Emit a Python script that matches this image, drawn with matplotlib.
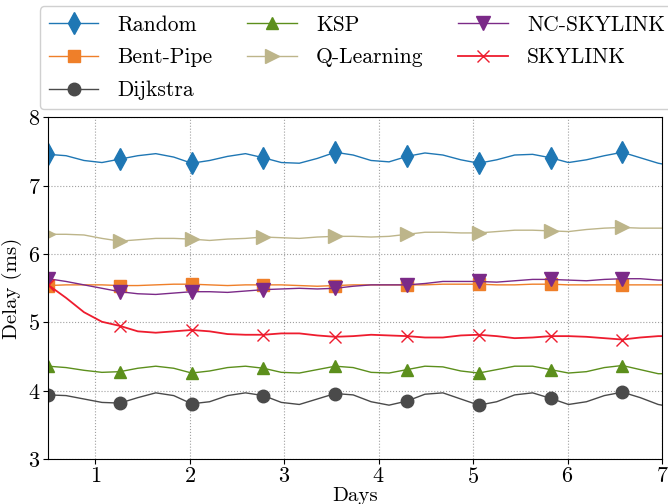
import numpy as np
import matplotlib
matplotlib.use('Agg')
import matplotlib.pyplot as plt

# sample days: 0.5 .. 6.96 step 0.19, plus the end point 7
days = [0.50, 0.69, 0.88, 1.07, 1.26, 1.45, 1.64, 1.83, 2.02, 2.21, 2.40, 2.59,
        2.78, 2.97, 3.16, 3.35, 3.54, 3.73, 3.92, 4.11, 4.30, 4.49, 4.68, 4.87,
        5.06, 5.25, 5.44, 5.63, 5.82, 6.01, 6.20, 6.39, 6.58, 6.77, 6.96, 7.00]

random_d = [7.46, 7.44, 7.37, 7.34, 7.39, 7.44, 7.47, 7.42, 7.33, 7.37, 7.43, 7.47,
            7.41, 7.34, 7.33, 7.40, 7.49, 7.45, 7.37, 7.35, 7.43, 7.48, 7.45, 7.38,
            7.33, 7.38, 7.45, 7.46, 7.41, 7.34, 7.38, 7.44, 7.49, 7.41, 7.33, 7.32]

bent_pipe = [5.54, 5.55, 5.55, 5.55, 5.54, 5.54, 5.55, 5.56, 5.56, 5.55, 5.54, 5.55,
             5.55, 5.55, 5.54, 5.53, 5.54, 5.55, 5.55, 5.55, 5.55, 5.55, 5.56, 5.56,
             5.56, 5.55, 5.55, 5.56, 5.56, 5.55, 5.55, 5.55, 5.55, 5.55, 5.55, 5.55]

dijkstra = [3.94, 3.93, 3.88, 3.83, 3.82, 3.90, 3.97, 3.93, 3.81, 3.84, 3.93, 3.97,
            3.93, 3.83, 3.80, 3.88, 3.96, 3.94, 3.84, 3.79, 3.85, 3.95, 3.97, 3.88,
            3.79, 3.84, 3.94, 3.97, 3.89, 3.80, 3.84, 3.93, 3.98, 3.90, 3.80, 3.79]

ksp = [4.36, 4.34, 4.30, 4.27, 4.28, 4.33, 4.36, 4.33, 4.26, 4.29, 4.34, 4.36,
       4.33, 4.27, 4.26, 4.31, 4.36, 4.34, 4.27, 4.26, 4.31, 4.36, 4.35, 4.29,
       4.26, 4.31, 4.36, 4.36, 4.31, 4.26, 4.28, 4.34, 4.37, 4.31, 4.25, 4.25]

q_learning = [6.29, 6.29, 6.28, 6.23, 6.19, 6.21, 6.23, 6.23, 6.22, 6.20, 6.22, 6.23,
              6.25, 6.24, 6.23, 6.25, 6.26, 6.26, 6.25, 6.26, 6.29, 6.32, 6.32, 6.31,
              6.31, 6.33, 6.35, 6.35, 6.34, 6.33, 6.36, 6.38, 6.39, 6.38, 6.38, 6.38]

nc_skylink = [5.64, 5.60, 5.55, 5.50, 5.45, 5.42, 5.41, 5.43, 5.45, 5.45, 5.44, 5.46,
              5.48, 5.49, 5.50, 5.49, 5.50, 5.53, 5.55, 5.55, 5.55, 5.57, 5.60, 5.60,
              5.60, 5.59, 5.61, 5.63, 5.63, 5.62, 5.61, 5.63, 5.64, 5.64, 5.62, 5.62]

skylink = [5.55, 5.36, 5.15, 5.01, 4.95, 4.87, 4.85, 4.87, 4.89, 4.87, 4.83, 4.82,
           4.82, 4.84, 4.84, 4.81, 4.79, 4.80, 4.82, 4.81, 4.80, 4.78, 4.78, 4.81,
           4.82, 4.80, 4.77, 4.78, 4.80, 4.80, 4.79, 4.77, 4.75, 4.78, 4.80, 4.80]


def main():
    plt.rcParams['font.family'] = 'serif'
    plt.rcParams['font.serif'] = ['cmr10']
    plt.rcParams['mathtext.fontset'] = 'cm'
    plt.rcParams['axes.formatter.use_mathtext'] = True

    fig = plt.figure(figsize=(6.68, 5.04), dpi=100)
    ax = fig.add_axes([0.072, 0.089, 0.919, 0.678])

    x = np.array(days)
    kw = dict(markevery=4, linewidth=1.0)
    ax.plot(x, random_d, color='#1f77b4', marker='d', markersize=11, label='Random', **kw)
    ax.plot(x, bent_pipe, color='#ef7f29', marker='s', markersize=9, label='Bent-Pipe', **kw)
    ax.plot(x, dijkstra, color='#4a4a4a', marker='o', markersize=9, label='Dijkstra', **kw)
    ax.plot(x, ksp, color='#5c8f1c', marker='^', markersize=9, label='KSP', **kw)
    ax.plot(x, q_learning, color='#bdb58a', marker='>', markersize=10, label='Q-Learning', **kw)
    ax.plot(x, nc_skylink, color='#7b2a88', marker='v', markersize=10, label='NC-SKYLINK', **kw)
    ax.plot(x, skylink, color='#ee1c2e', marker='x', markersize=9, label='SKYLINK',
            markevery=4, linewidth=1.3)

    ax.set_xlim(0.5, 7)
    ax.set_ylim(3, 8)
    ax.set_xticks([1, 2, 3, 4, 5, 6, 7])
    ax.set_yticks([3, 4, 5, 6, 7, 8])
    ax.tick_params(labelsize=16, pad=2)
    ax.set_xlabel('Days', fontsize=15, labelpad=0)
    ax.set_ylabel('Delay (ms)', fontsize=15, labelpad=4)
    ax.grid(True, linestyle=':', color='#a0a0a0', linewidth=0.8)

    ax.legend(loc='lower center', bbox_to_anchor=(0.503, 1.025), ncol=3,
              fontsize=15.5, handlelength=2.3, handletextpad=0.9, columnspacing=1.6,
              borderaxespad=0.0, labelspacing=0.62, framealpha=1.0, edgecolor='#d0d0d0')

    fig.savefig('out.png', dpi=100)


if __name__ == '__main__':
    main()
